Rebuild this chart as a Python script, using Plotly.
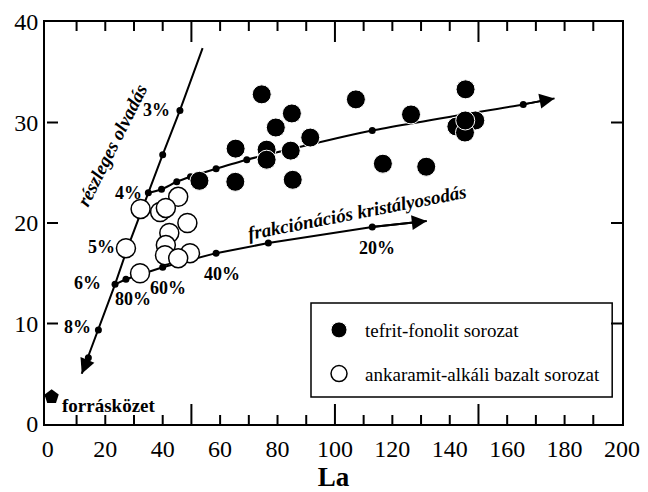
import plotly.graph_objects as go

# ---------------- data ----------------
tef_x = [74.5, 107.3, 145.5, 85.0, 79.4, 126.5, 91.4, 65.4, 76.2, 84.6, 76.2, 52.8, 65.3, 85.3,
         116.7, 131.8, 142.3, 148.9, 145.3, 145.4]
tef_y = [32.8, 32.3, 33.3, 30.9, 29.5, 30.8, 28.5, 27.4, 27.3, 27.2, 26.3, 24.2, 24.1, 24.3,
         25.9, 25.6, 29.6, 30.2, 29.0, 30.2]

ank_x = [32.3, 45.4, 39.1, 41.1, 48.6, 42.3, 41.1, 40.8, 49.5, 45.4, 27.2, 32.1]
ank_y = [21.4, 22.6, 21.1, 21.5, 20.0, 19.0, 17.8, 16.8, 17.0, 16.5, 17.5, 15.0]

src_x = [1.3]
src_y = [2.7]

# partial melting trend (top end ... arrow tip)
melt_x = [53.9, 46.0, 40.0, 35.0, 27.6, 23.4, 17.6, 14.1, 11.8]
melt_y = [37.4, 31.2, 26.8, 23.0, 17.4, 13.9, 9.35, 6.6, 5.0]
melt_dot = [False, True, True, True, True, True, True, True, False]

# tefrit-fonolit fractionation curve
tefc_x = [35.0, 39.6, 44.9, 49.7, 58.6, 69.3, 113.0, 165.6, 176.5]
tefc_y = [23.0, 23.35, 24.1, 24.6, 25.4, 26.3, 29.2, 31.8, 32.4]

# ankaramit fractional crystallisation curve
frac_x = [23.4, 27.2, 40.0, 58.6, 76.8, 113.0, 132.0]
frac_y = [13.9, 14.4, 15.6, 17.0, 18.0, 19.6, 20.2]

pct_labels = ["3%", "4%", "5%", "6%", "8%", "80%", "60%", "40%", "20%"]
pct_x = [37.9, 28.0, 18.7, 13.7, 10.2, 29.7, 41.9, 60.5, 114.5]
pct_y = [31.2, 23.0, 17.6, 14.0, 9.7, 12.4, 13.5, 14.9, 17.5]

x_ticklabels = list(range(0, 201, 20))
x_minor = [v for v in range(10, 200, 10) if v % 50]
x_major = [50, 100, 150]
y_ticks = [0, 10, 20, 30, 40]
y_inner_ticks = [10, 20, 30]

FONT = "Liberation Serif, Times New Roman, Times, serif"

W, H = 648, 492
M = dict(l=45, r=26, t=22, b=68)
X_RANGE = [-1, 200]
Y_RANGE = [0, 40]

fig = go.Figure()

def dots(xs, ys, mask):
    return [x for x, m in zip(xs, mask) if m], [y for y, m in zip(ys, mask) if m]

# inward tick marks on all four sides, as one segmented line trace in axis units
xpp = (X_RANGE[1] - X_RANGE[0]) / (W - M["l"] - M["r"])   # x units per pixel
ypp = (Y_RANGE[1] - Y_RANGE[0]) / (H - M["t"] - M["b"])   # y units per pixel
tx, ty = [], []
for v in x_minor + x_major:
    ln = (20 if v in x_major else 9) * ypp
    tx += [v, v, None, v, v, None]
    ty += [Y_RANGE[0], Y_RANGE[0] + ln, None, Y_RANGE[1], Y_RANGE[1] - ln, None]
for v in y_inner_ticks:
    tx += [X_RANGE[0] + 2 * xpp, X_RANGE[0] + 13 * xpp, None, X_RANGE[1], X_RANGE[1] - 11 * xpp, None]
    ty += [v, v, None, v, v, None]
fig.add_trace(go.Scatter(x=tx, y=ty, mode="lines", line=dict(color="black", width=2),
                         showlegend=False, hoverinfo="skip", connectgaps=False))

# trend lines
for xs, ys, shp in [(melt_x, melt_y, "linear"), (tefc_x, tefc_y, "spline"), (frac_x, frac_y, "linear")]:
    fig.add_trace(go.Scatter(x=xs, y=ys, mode="lines", line=dict(color="black", width=2, shape=shp, smoothing=0.6),
                             showlegend=False, hoverinfo="skip"))

mx, my = dots(melt_x, melt_y, melt_dot)
fig.add_trace(go.Scatter(x=mx, y=my, mode="markers", marker=dict(color="black", size=7), showlegend=False))
fig.add_trace(go.Scatter(x=tefc_x[1:-1], y=tefc_y[1:-1], mode="markers", marker=dict(color="black", size=7), showlegend=False))
fig.add_trace(go.Scatter(x=frac_x[1:-1], y=frac_y[1:-1], mode="markers", marker=dict(color="black", size=7), showlegend=False))

fig.add_trace(go.Scatter(x=tef_x, y=tef_y, mode="markers", name="tefrit-fonolit sorozat",
                         legendgroup="a",
                         marker=dict(color="black", size=19, line=dict(color="white", width=1))))
fig.add_trace(go.Scatter(x=ank_x, y=ank_y, mode="markers", name="ankaramit-alkáli bazalt sorozat",
                         legendgroup="b",
                         marker=dict(color="white", size=19, line=dict(color="black", width=1.5))))
fig.add_trace(go.Scatter(x=src_x, y=src_y, mode="markers", showlegend=False,
                         marker=dict(color="black", size=15, symbol="pentagon")))

# arrowheads
for xs, ys in [(melt_x, melt_y), (tefc_x, tefc_y), (frac_x, frac_y)]:
    fig.add_annotation(x=xs[-1], y=ys[-1], ax=xs[-2], ay=ys[-2], axref="x", ayref="y", xref="x", yref="y",
                       text="", showarrow=True, arrowhead=2, arrowsize=1.5, arrowwidth=2, arrowcolor="black",
                       standoff=0)

for t, x, y in zip(pct_labels, pct_x, pct_y):
    fig.add_annotation(x=x, y=y, text=t, showarrow=False, xanchor="center", yanchor="middle",
                       font=dict(family=FONT, size=18, color="black", weight="bold"))

fig.add_annotation(x=4.2, y=1.8, text="forrásközet", showarrow=False, xanchor="left", yanchor="middle",
                   font=dict(family=FONT, size=19, color="black", weight="bold"))
fig.add_annotation(x=22.5, y=27.8, text="részleges olvadás", showarrow=False, textangle=-63.4,
                   font=dict(family=FONT, size=19, color="black", weight="bold", style="italic"))
fig.add_annotation(x=107.6, y=21.0, text="frakciónációs kristályosodás", showarrow=False, textangle=-11,
                   font=dict(family=FONT, size=19, color="black", weight="bold", style="italic"))

# legend frame
fig.add_shape(type="rect", xref="paper", yref="paper", x0=0.461, x1=0.983, y0=0.067, y1=0.301,
              line=dict(color="black", width=1.5), fillcolor="rgba(0,0,0,0)")

fig.update_layout(
    template="none",
    width=W, height=H,
    margin=M,
    paper_bgcolor="white", plot_bgcolor="white",
    font=dict(family=FONT, color="black"),
    showlegend=True,
    legend=dict(x=0.4645, y=0.281, xanchor="left", yanchor="top", bgcolor="rgba(0,0,0,0)",
                font=dict(family=FONT, size=19, color="black"), traceorder="grouped",
                tracegroupgap=16, itemwidth=42, borderwidth=0),
    xaxis=dict(range=X_RANGE, tickvals=x_ticklabels, ticks="", showline=True, linecolor="black",
               linewidth=2, mirror=True, showgrid=False, zeroline=False, ticklabelstandoff=2,
               tickfont=dict(family=FONT, size=24, color="black"),
               title=dict(text="La", font=dict(family=FONT, size=27, color="black", weight="bold"), standoff=22)),
    yaxis=dict(range=Y_RANGE, tickvals=y_ticks, ticks="", showline=True, linecolor="black", linewidth=2,
               mirror=True, showgrid=False, zeroline=False,
               tickfont=dict(family=FONT, size=24, color="black")),
)

fig.write_html("out.html")
